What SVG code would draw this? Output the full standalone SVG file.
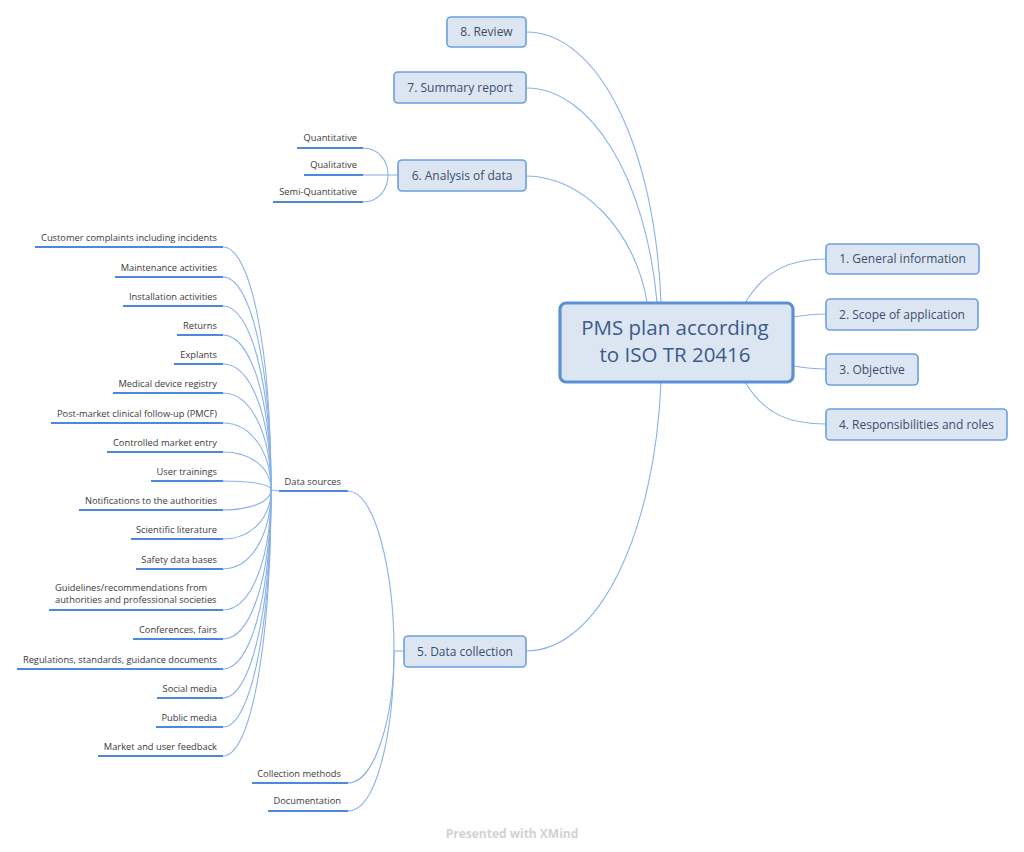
<svg xmlns="http://www.w3.org/2000/svg" width="1024" height="852" viewBox="0 0 1024 852">
<style>
.bg{fill:#ffffff}
.con{fill:none;stroke:#8ab2e8;stroke-width:1.1}
.ul{stroke:#4d89d8;stroke-width:2.2;fill:none}
.box{fill:#dce6f2;stroke:#6c9fe0;stroke-width:1.6}
.root{fill:#dce6f2;stroke:#5b8fd6;stroke-width:3.2}
.t{font-family:"Open Sans","Noto Sans","Liberation Sans",sans-serif;font-size:12px;fill:#3b4d6c;text-anchor:middle}
.rt{font-family:"Open Sans","Noto Sans","Liberation Sans",sans-serif;font-size:20.5px;fill:#3d5a8c;text-anchor:middle}
.s{font-family:"Open Sans","Noto Sans","Liberation Sans",sans-serif;font-size:9.3px;fill:#3a3a3a;text-anchor:end}
.sl{font-family:"Open Sans","Noto Sans","Liberation Sans",sans-serif;font-size:9.3px;fill:#3a3a3a;text-anchor:start}
.wm{font-family:"Open Sans","Noto Sans","Liberation Sans",sans-serif;font-size:12px;font-weight:bold;fill:#d2d2d2;text-anchor:middle}
</style>
<rect class="bg" x="0" y="0" width="1024" height="852"/>
<g id="connectors">
<path class="con" d="M745,303 C765,270 790,259 826,259"/>
<path class="con" d="M793,317 C805,315 815,314 826,314"/>
<path class="con" d="M793,366 C805,368 815,369 826,369"/>
<path class="con" d="M745,382 C765,415 790,424 826,424"/>
<path class="con" d="M526,32 C600,32 655,150 661,302"/>
<path class="con" d="M526,88 C592,88 646,180 657,302"/>
<path class="con" d="M526,176 C582,176 635,230 647,302"/>
<path class="con" d="M526,651 C600,651 655,530 661,382"/>
<path class="con" d="M398,175 L388,175"/>
<path class="con" d="M363,148 C378,148 388,160 388,175"/>
<path class="con" d="M363,175 L388,175"/>
<path class="con" d="M363,202 C378,202 388,190 388,175"/>
<path class="con" d="M404,651 L394,651"/>
<path class="con" d="M348,491 C375,491 394,571 394,651"/>
<path class="con" d="M348,783 C375,783 394,717 394,651"/>
<path class="con" d="M348,811 C377,811 394,731 394,651"/>
<path class="con" d="M279,491 L271,490"/>
<path class="con" d="M223,247 C250,247 271,344 271,490"/>
<path class="con" d="M223,277 C250,277 271,362 271,490"/>
<path class="con" d="M223,306 C250,306 271,380 271,490"/>
<path class="con" d="M223,335 C250,335 271,397 271,490"/>
<path class="con" d="M223,364 C250,364 271,414 271,490"/>
<path class="con" d="M223,393 C250,393 271,432 271,490"/>
<path class="con" d="M223,423 C250,423 271,450 271,490"/>
<path class="con" d="M223,452 C250,452 271,467 271,490"/>
<path class="con" d="M223,481 C250,481 271,484 271,490"/>
<path class="con" d="M223,510 C250,510 271,502 271,490"/>
<path class="con" d="M223,539 C250,539 271,519 271,490"/>
<path class="con" d="M223,569 C250,569 271,537 271,490"/>
<path class="con" d="M223,610 C250,610 271,562 271,490"/>
<path class="con" d="M223,639 C250,639 271,580 271,490"/>
<path class="con" d="M223,669 C250,669 271,598 271,490"/>
<path class="con" d="M223,698 C250,698 271,615 271,490"/>
<path class="con" d="M223,727 C250,727 271,632 271,490"/>
<path class="con" d="M223,756 C250,756 271,650 271,490"/>
</g>
<g id="root">
<rect class="root" x="560" y="303" width="233" height="79" rx="6"/>
<text class="rt" x="675" y="335">PMS plan according</text>
<text class="rt" x="675" y="362">to ISO TR 20416</text>
</g>
<g id="n1"><rect class="box" x="826" y="244" width="153" height="30" rx="4"/><text class="t" x="902.5" y="263.3">1. General information</text></g>
<g id="n2"><rect class="box" x="826" y="299" width="152" height="31" rx="4"/><text class="t" x="902" y="318.8">2. Scope of application</text></g>
<g id="n3"><rect class="box" x="826" y="354" width="92" height="31" rx="4"/><text class="t" x="872" y="373.8">3. Objective</text></g>
<g id="n4"><rect class="box" x="826" y="409" width="181" height="31" rx="4"/><text class="t" x="916.5" y="428.8">4. Responsibilities and roles</text></g>
<g id="n8"><rect class="box" x="447" y="17" width="79" height="30" rx="4"/><text class="t" x="486.5" y="36.3">8. Review</text></g>
<g id="n7"><rect class="box" x="394" y="72" width="132" height="31" rx="4"/><text class="t" x="460" y="91.8">7. Summary report</text></g>
<g id="n6"><rect class="box" x="398" y="160" width="128" height="31" rx="4"/><text class="t" x="462" y="179.8">6. Analysis of data</text></g>
<g id="n5"><rect class="box" x="404" y="636" width="122" height="31" rx="4"/><text class="t" x="465" y="655.8">5. Data collection</text></g>
<g id="analysis-children">
<g id="quantitative"><text class="s" x="357" y="141">Quantitative</text><line class="ul" x1="297" y1="148" x2="363" y2="148"/></g>
<g id="qualitative"><text class="s" x="357" y="168">Qualitative</text><line class="ul" x1="304" y1="175" x2="363" y2="175"/></g>
<g id="semi-quantitative"><text class="s" x="357" y="195">Semi-Quantitative</text><line class="ul" x1="273" y1="202" x2="363" y2="202"/></g>
</g>
<g id="collection-children">
<g id="data-sources"><text class="s" x="341" y="484.5">Data sources</text><line class="ul" x1="279" y1="491" x2="348" y2="491"/></g>
<g id="collection-methods"><text class="s" x="341" y="776.5">Collection methods</text><line class="ul" x1="252" y1="783" x2="348" y2="783"/></g>
<g id="documentation"><text class="s" x="341" y="804">Documentation</text><line class="ul" x1="268" y1="811" x2="348" y2="811"/></g>
</g>
<g id="sources">
<g id="s1"><text class="s" x="217" y="240.5">Customer complaints including incidents</text><line class="ul" x1="35" y1="247" x2="223" y2="247"/></g>
<g id="s2"><text class="s" x="217" y="270.5">Maintenance activities</text><line class="ul" x1="115" y1="277" x2="223" y2="277"/></g>
<g id="s3"><text class="s" x="217" y="299.5">Installation activities</text><line class="ul" x1="123" y1="306" x2="223" y2="306"/></g>
<g id="s4"><text class="s" x="217" y="328.5">Returns</text><line class="ul" x1="177" y1="335" x2="223" y2="335"/></g>
<g id="s5"><text class="s" x="217" y="357.5">Explants</text><line class="ul" x1="174" y1="364" x2="223" y2="364"/></g>
<g id="s6"><text class="s" x="217" y="386.5">Medical device registry</text><line class="ul" x1="113" y1="393" x2="223" y2="393"/></g>
<g id="s7"><text class="s" x="217" y="416.5">Post-market clinical follow-up (PMCF)</text><line class="ul" x1="51" y1="423" x2="223" y2="423"/></g>
<g id="s8"><text class="s" x="217" y="445.5">Controlled market entry</text><line class="ul" x1="107" y1="452" x2="223" y2="452"/></g>
<g id="s9"><text class="s" x="217" y="474.5">User trainings</text><line class="ul" x1="151" y1="481" x2="223" y2="481"/></g>
<g id="s10"><text class="s" x="217" y="503.5">Notifications to the authorities</text><line class="ul" x1="79" y1="510" x2="223" y2="510"/></g>
<g id="s11"><text class="s" x="217" y="532.5">Scientific literature</text><line class="ul" x1="131" y1="539" x2="223" y2="539"/></g>
<g id="s12"><text class="s" x="217" y="562.5">Safety data bases</text><line class="ul" x1="136" y1="569" x2="223" y2="569"/></g>
<g id="s13"><text class="sl" x="55" y="590.5">Guidelines/recommendations from</text><text class="sl" x="55" y="603">authorities and professional societies</text><line class="ul" x1="49" y1="610" x2="223" y2="610"/></g>
<g id="s14"><text class="s" x="217" y="632.5">Conferences, fairs</text><line class="ul" x1="133" y1="639" x2="223" y2="639"/></g>
<g id="s15"><text class="s" x="217" y="662.5">Regulations, standards, guidance documents</text><line class="ul" x1="17" y1="669" x2="223" y2="669"/></g>
<g id="s16"><text class="s" x="217" y="691.5">Social media</text><line class="ul" x1="157" y1="698" x2="223" y2="698"/></g>
<g id="s17"><text class="s" x="217" y="720.5">Public media</text><line class="ul" x1="156" y1="727" x2="223" y2="727"/></g>
<g id="s18"><text class="s" x="217" y="749.5">Market and user feedback</text><line class="ul" x1="98" y1="756" x2="223" y2="756"/></g>
</g>
<text class="wm" x="512" y="837.5">Presented with XMind</text>
</svg>
